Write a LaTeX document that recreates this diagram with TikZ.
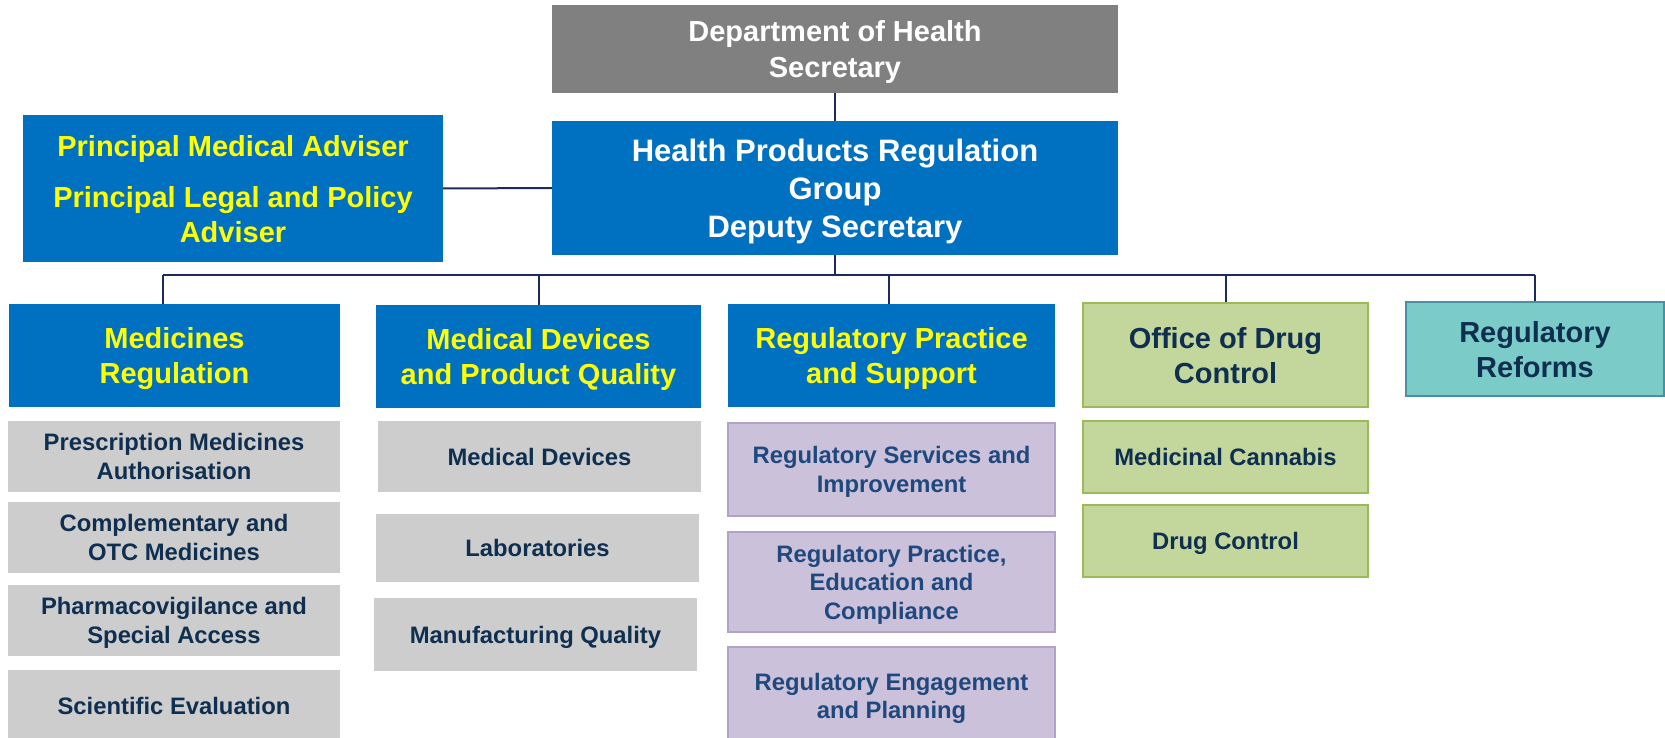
\documentclass[tikz,border=0pt]{standalone}
\usepackage{fontspec}
\setmainfont{Liberation Sans}
\definecolor{hblue}{HTML}{0070C0}
\definecolor{hyellow}{HTML}{FFFF00}
\definecolor{dgray}{HTML}{808080}
\definecolor{lgray}{HTML}{CDCDCD}
\definecolor{dtext}{HTML}{0F2F50}
\definecolor{ptext}{HTML}{1F497D}
\definecolor{pfill}{HTML}{CCC1DA}
\definecolor{pline}{HTML}{B3A2C7}
\definecolor{gfill}{HTML}{C3D69B}
\definecolor{gline}{HTML}{9BBB59}
\definecolor{tfill}{HTML}{7BCCC9}
\definecolor{tline}{HTML}{4A8FA2}
\definecolor{conncol}{HTML}{1F2A5C}
\begin{document}
\begin{tikzpicture}[x=1pt,y=-1pt,
  box/.style={rectangle, inner sep=0pt, align=center, text depth=0pt},
  bigfont/.style={font=\bfseries\fontsize{29pt}{35pt}\selectfont},
  smallfont/.style={font=\bfseries\fontsize{23.8pt}{28.6pt}\selectfont},
  deptbox/.style={box, fill=dgray, text=white, font=\bfseries\fontsize{29pt}{36pt}\selectfont},
  headbox/.style={box, fill=hblue, text=white, font=\bfseries\fontsize{31pt}{38pt}\selectfont},
  advbox/.style={box, fill=hblue, text=hyellow, bigfont},
  divbox/.style={box, fill=hblue, text=hyellow, bigfont},
  greenbox/.style={box, fill=gfill, draw=gline, line width=2.5pt, text=dtext},
  tealbox/.style={box, fill=tfill, draw=tline, line width=2pt, text=dtext, bigfont},
  graybox/.style={box, fill=lgray, text=dtext, smallfont},
  purplebox/.style={box, fill=pfill, draw=pline, line width=2pt, text=ptext, smallfont},
  conn/.style={draw=conncol, line width=2pt}
]
\useasboundingbox (0,0) rectangle (1665,738);
\clip (0,0) rectangle (1665,738);

% top
\node[deptbox, minimum width=566pt, minimum height=88pt] (dept) at (835,49) {Department of Health\\Secretary};
\node[headbox, minimum width=566pt, minimum height=134pt] (hprg) at (835,188) {Health Products Regulation\\Group\\Deputy Secretary};
\node[advbox, minimum width=420pt, minimum height=147pt] (pa) at (233,188.5) {Principal Medical Adviser\\[16pt]Principal Legal and Policy\\Adviser};

% divisions
\node[divbox, minimum width=331pt, minimum height=103pt] (med) at (174.5,355.5) {Medicines\\Regulation};
\node[divbox, minimum width=325pt, minimum height=103pt] (mdpq) at (538.5,356.5) {Medical Devices\\and Product Quality};
\node[divbox, minimum width=327pt, minimum height=103pt] (rps) at (891.5,355.5) {Regulatory Practice\\and Support};
\node[greenbox, bigfont, minimum width=285pt, minimum height=104pt] (odc) at (1225.5,355) {Office of Drug\\Control};
\node[tealbox, minimum width=258pt, minimum height=94pt] (rr) at (1535,349) {Regulatory\\Reforms};

% medicines branches
\node[graybox, minimum width=332pt, minimum height=71pt] (presc) at (174,456.5) {Prescription Medicines\\Authorisation};
\node[graybox, minimum width=332pt, minimum height=71pt] (comp) at (174,537.5) {Complementary and\\OTC Medicines};
\node[graybox, minimum width=332pt, minimum height=71pt] (pharm) at (174,620.5) {Pharmacovigilance and\\Special Access};
\node[graybox, minimum width=332pt, minimum height=72pt] (sci) at (174,706) {Scientific Evaluation};

% devices branches
\node[graybox, minimum width=323pt, minimum height=71pt] (mdev) at (539.5,456.5) {Medical Devices};
\node[graybox, minimum width=323pt, minimum height=68pt] (labs) at (537.5,548) {Laboratories};
\node[graybox, minimum width=323pt, minimum height=73pt] (manu) at (535.5,634.5) {Manufacturing Quality};

% practice branches
\node[purplebox, minimum width=327pt, minimum height=93pt] (rsi) at (891.5,469.5) {Regulatory Services and\\Improvement};
\node[purplebox, minimum width=327pt, minimum height=100pt] (rpec) at (891.5,582) {Regulatory Practice,\\Education and\\Compliance};
\node[purplebox, minimum width=327pt, minimum height=98pt] (rep) at (891.5,696) {Regulatory Engagement\\and Planning};

% drug control branches
\node[greenbox, smallfont, minimum width=285pt, minimum height=72pt] (mc) at (1225.5,457) {Medicinal Cannabis};
\node[greenbox, smallfont, minimum width=285pt, minimum height=72pt] (dc) at (1225.5,541) {Drug Control};

% connectors
\draw[conn] (dept.south) -- (hprg.north);
\draw[conn] (pa.east) -- (hprg.west);
\coordinate (b1) at (163,275);
\coordinate (b2) at (539,275);
\coordinate (b3) at (889,275);
\coordinate (b4) at (1225.5,275);
\coordinate (b5) at (1535,275);
\draw[conn] (hprg.south) -- (hprg.south |- b1);
\draw[conn] (b1) -- (b5);
\draw[conn] (b1) -- (b1 |- med.north);
\draw[conn] (b2) -- (b2 |- mdpq.north);
\draw[conn] (b3) -- (b3 |- rps.north);
\draw[conn] (b4) -- (odc.north);
\draw[conn] (b5) -- (rr.north);
\end{tikzpicture}
\end{document}
